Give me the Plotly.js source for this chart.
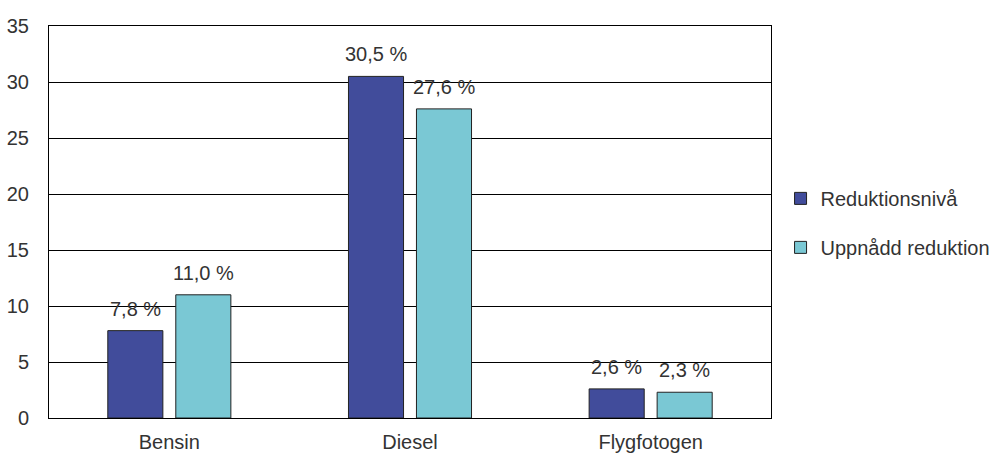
<!DOCTYPE html>
<html><head><meta charset="utf-8">
<script src="https://cdn.plot.ly/plotly-3.0.1.min.js"></script>
<style>body{margin:0;background:#fff}#c{width:1002px;height:453px}</style>
</head><body><div id="c"></div>
<script>
const categories = ["Bensin", "Diesel", "Flygfotogen"];
const reduktionsniva = [7.8, 30.5, 2.6];
const uppnadd = [11.0, 27.6, 2.3];
const seriesNames = ["Reduktionsnivå", "Uppnådd reduktion"];
const fmt = v => v.toFixed(1).replace('.', ',') + ' %';
const font = {family: "Liberation Sans, Arial, sans-serif", size: 20, color: "#333"};
const series = [
  {y: reduktionsniva, name: seriesNames[0], color: '#414C9B', shift: -34},
  {y: uppnadd, name: seriesNames[1], color: '#7AC8D4', shift: 34}
];
const traces = series.map((s, i) => ({
  type: 'bar', x: categories, y: s.y, name: s.name, legendgroup: 'g' + i,
  marker: {color: s.color, line: {color: '#222', width: 1}}
}));
const annotations = [];
series.forEach(s => s.y.forEach((v, j) => annotations.push({
  x: categories[j], y: v, xref: 'x', yref: 'y', text: fmt(v), showarrow: false,
  xanchor: 'center', yanchor: 'bottom', xshift: s.shift, yshift: 9, font: font
})));
const layout = {
  width: 1002, height: 453,
  margin: {l: 49, r: 231, t: 26, b: 35, autoexpand: false},
  font: font,
  barmode: 'group', bargap: 0.435, bargroupgap: 0.19,
  showlegend: true,
  annotations: annotations,
  legend: {xref: 'container', yref: 'container', x: 0.779, xanchor: 'left', y: 0.508, yanchor: 'middle',
           tracegroupgap: 20, font: font, itemwidth: 30, bgcolor: 'rgba(0,0,0,0)'},
  xaxis: {showline: true, linecolor: '#000', linewidth: 1, mirror: true, ticks: '', showgrid: false,
          tickfont: font, ticklabelstandoff: 6, automargin: false},
  yaxis: {range: [0, 35], dtick: 5, showline: true, linecolor: '#000', linewidth: 1, mirror: true,
          gridcolor: '#000', gridwidth: 1, ticks: '', zeroline: false, tickfont: font, ticklabelstandoff: 15,
          automargin: false},
  plot_bgcolor: '#fff', paper_bgcolor: '#fff'
};
Plotly.newPlot('c', traces, layout, {displayModeBar: false, staticPlot: true});
</script></body></html>
